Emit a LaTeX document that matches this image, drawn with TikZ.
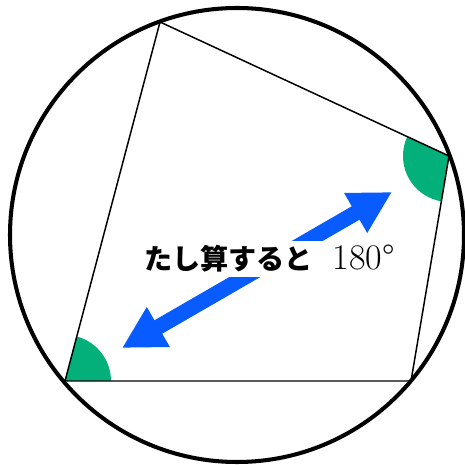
\documentclass[tikz,border=0pt]{standalone}
\usepackage{fontspec}
\newfontfamily\jpfont{Noto Sans CJK JP}
\usetikzlibrary{arrows.meta}
\definecolor{anglegreen}{RGB}{4,176,122}
\definecolor{arrowblue}{RGB}{8,92,255}
\tikzset{
    side/.style={line width=0.85pt},
    rim/.style={line width=2.3pt},
    angmark/.style={fill=anglegreen},
    sumarrow/.style={arrowblue, line width=0.31cm,
        {Triangle[length=0.84cm, width=0.86cm]}-{Triangle[length=0.84cm, width=0.86cm]}},
    sumlabel/.style={fill=white, inner xsep=1pt, inner ysep=0pt,
        text height=0.58cm, text depth=0.14cm}
}
\begin{document}
\begin{tikzpicture}[x=0.02cm, y=0.02cm]
    \useasboundingbox (0, 0) rectangle (465, 465);

    % Vertices on the circle
    \coordinate (O) at (237, 230);
    \coordinate (A) at (65, 84);
    \coordinate (B) at (160, 443);
    \coordinate (C) at (449, 309);
    \coordinate (D) at (411, 84);

    % Opposite angles
    \fill[angmark] (A) -- ++(0:46) arc[start angle=0, end angle=75.2, radius=46] -- cycle;
    \fill[angmark] (C) -- ++(155.1:46) arc[start angle=155.1, end angle=260.4, radius=46] -- cycle;

    % Circle and quadrilateral
    \draw[rim] (O) circle[radius=227];
    \draw[side] (A) -- (B) -- (C) -- (D) -- cycle;

    % Arrow with label
    \coordinate (tipL) at (122, 117);
    \coordinate (tipR) at (392, 273);
    \draw[sumarrow] (tipL) -- (tipR);
    \node[sumlabel, anchor=base west] (sum) at (142, 195)
        {{\fontsize{16}{19}\selectfont\jpfont\bfseries たし算すると}\hspace{0.4cm}{\fontsize{20.5}{24}\selectfont 180\textdegree}};
\end{tikzpicture}
\end{document}
